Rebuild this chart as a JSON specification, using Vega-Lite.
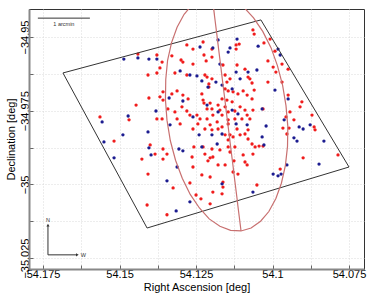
{
  "$schema": "https://vega.github.io/schema/vega-lite/v6.json",
  "width": 335,
  "height": 260,
  "autosize": {"type": "none"},
  "padding": {"left": 29, "top": 9, "right": 10, "bottom": 30},
  "background": "white",
  "config": {
    "font": "Liberation Sans",
    "view": {"stroke": "#333", "strokeWidth": 1},
    "axis": {
      "labelFont": "Liberation Sans",
      "titleFont": "Liberation Sans",
      "labelFontSize": 11,
      "titleFontSize": 11,
      "titleFontWeight": "normal",
      "labelColor": "#000",
      "titleColor": "#000",
      "domainColor": "#888",
      "domainWidth": 2,
      "tickColor": "#666",
      "tickSize": -4,
      "gridColor": "#d0d0d0",
      "gridDash": [1, 2],
      "gridWidth": 0.8
    }
  },
  "datasets": {
    "pts": [
      {"ra":54.1440,"dec":-34.9558,"c":"r"},{"ra":54.1407,"dec":-34.9629,"c":"r"},{"ra":54.1404,"dec":-34.9707,"c":"r"},{"ra":54.1446,"dec":-34.9731,"c":"r"},
      {"ra":54.1564,"dec":-34.9771,"c":"r"},{"ra":54.1469,"dec":-34.9781,"c":"r"},{"ra":54.1518,"dec":-34.9853,"c":"r"},{"ra":54.1427,"dec":-34.9914,"c":"r"},
      {"ra":54.1407,"dec":-34.9965,"c":"r"},{"ra":54.1410,"dec":-35.0070,"c":"r"},{"ra":54.1384,"dec":-34.9897,"c":"r"},{"ra":54.1358,"dec":-34.9914,"c":"r"},
      {"ra":54.1345,"dec":-34.9897,"c":"r"},{"ra":54.1325,"dec":-35.0012,"c":"r"},{"ra":54.1345,"dec":-35.0103,"c":"r"},{"ra":54.1400,"dec":-34.9866,"c":"r"},
      {"ra":54.1358,"dec":-34.9880,"c":"r"},{"ra":54.1378,"dec":-34.9561,"c":"r"},{"ra":54.1361,"dec":-34.9585,"c":"r"},{"ra":54.1378,"dec":-34.9622,"c":"r"},
      {"ra":54.1280,"dec":-34.9527,"c":"r"},{"ra":54.1260,"dec":-34.9541,"c":"r"},{"ra":54.1227,"dec":-34.9517,"c":"r"},{"ra":54.1198,"dec":-34.9541,"c":"r"},
      {"ra":54.1329,"dec":-34.9564,"c":"r"},{"ra":54.1299,"dec":-34.9578,"c":"r"},{"ra":54.1293,"dec":-34.9585,"c":"r"},{"ra":54.1260,"dec":-34.9592,"c":"r"},
      {"ra":54.1224,"dec":-34.9561,"c":"r"},{"ra":54.1217,"dec":-34.9581,"c":"r"},{"ra":54.1198,"dec":-34.9568,"c":"r"},{"ra":54.1368,"dec":-34.9605,"c":"r"},
      {"ra":54.1319,"dec":-34.9622,"c":"r"},{"ra":54.1280,"dec":-34.9629,"c":"r"},{"ra":54.1221,"dec":-34.9629,"c":"r"},{"ra":54.1214,"dec":-34.9636,"c":"r"},
      {"ra":54.1198,"dec":-34.9642,"c":"r"},{"ra":54.1208,"dec":-34.9659,"c":"r"},{"ra":54.1208,"dec":-34.9670,"c":"r"},{"ra":54.1358,"dec":-34.9686,"c":"r"},
      {"ra":54.1329,"dec":-34.9693,"c":"r"},{"ra":54.1312,"dec":-34.9683,"c":"r"},{"ra":54.1293,"dec":-34.9697,"c":"r"},{"ra":54.1276,"dec":-34.9710,"c":"r"},
      {"ra":54.1231,"dec":-34.9693,"c":"r"},{"ra":54.1227,"dec":-34.9714,"c":"r"},{"ra":54.1224,"dec":-34.9724,"c":"r"},{"ra":54.1368,"dec":-34.9703,"c":"r"},
      {"ra":54.1358,"dec":-34.9714,"c":"r"},{"ra":54.1342,"dec":-34.9744,"c":"r"},{"ra":54.1319,"dec":-34.9754,"c":"r"},{"ra":54.1296,"dec":-34.9737,"c":"r"},
      {"ra":54.1280,"dec":-34.9751,"c":"r"},{"ra":54.1270,"dec":-34.9765,"c":"r"},{"ra":54.1247,"dec":-34.9765,"c":"r"},{"ra":54.1237,"dec":-34.9778,"c":"r"},
      {"ra":54.1214,"dec":-34.9778,"c":"r"},{"ra":54.1195,"dec":-34.9765,"c":"r"},{"ra":54.1378,"dec":-34.9778,"c":"r"},{"ra":54.1361,"dec":-34.9778,"c":"r"},
      {"ra":54.1312,"dec":-34.9778,"c":"r"},{"ra":54.1214,"dec":-34.9744,"c":"r"},{"ra":54.1198,"dec":-34.9744,"c":"r"},{"ra":54.1204,"dec":-34.9724,"c":"r"},
      {"ra":54.1064,"dec":-34.9476,"c":"r"},{"ra":54.1060,"dec":-34.9490,"c":"r"},{"ra":54.1008,"dec":-34.9507,"c":"r"},{"ra":54.1119,"dec":-34.9527,"c":"r"},
      {"ra":54.1109,"dec":-34.9524,"c":"r"},{"ra":54.1119,"dec":-34.9541,"c":"r"},{"ra":54.1028,"dec":-34.9520,"c":"r"},{"ra":54.0992,"dec":-34.9548,"c":"r"},
      {"ra":54.0998,"dec":-34.9602,"c":"r"},{"ra":54.0989,"dec":-34.9619,"c":"r"},{"ra":54.1015,"dec":-34.9581,"c":"r"},{"ra":54.1116,"dec":-34.9595,"c":"r"},
      {"ra":54.1090,"dec":-34.9609,"c":"r"},{"ra":54.1080,"dec":-34.9636,"c":"r"},{"ra":54.1074,"dec":-34.9642,"c":"r"},{"ra":54.1067,"dec":-34.9656,"c":"r"},
      {"ra":54.1060,"dec":-34.9680,"c":"r"},{"ra":54.1162,"dec":-34.9595,"c":"r"},{"ra":54.1155,"dec":-34.9629,"c":"r"},{"ra":54.1149,"dec":-34.9653,"c":"r"},
      {"ra":54.1139,"dec":-34.9642,"c":"r"},{"ra":54.1155,"dec":-34.9676,"c":"r"},{"ra":54.1145,"dec":-34.9683,"c":"r"},{"ra":54.1129,"dec":-34.9686,"c":"r"},
      {"ra":54.1113,"dec":-34.9693,"c":"r"},{"ra":54.1096,"dec":-34.9683,"c":"r"},{"ra":54.1083,"dec":-34.9697,"c":"r"},{"ra":54.1067,"dec":-34.9710,"c":"r"},
      {"ra":54.1165,"dec":-34.9710,"c":"r"},{"ra":54.1149,"dec":-34.9714,"c":"r"},{"ra":54.1132,"dec":-34.9720,"c":"r"},{"ra":54.1178,"dec":-34.9731,"c":"r"},
      {"ra":54.1172,"dec":-34.9748,"c":"r"},{"ra":54.1155,"dec":-34.9737,"c":"r"},{"ra":54.1145,"dec":-34.9754,"c":"r"},{"ra":54.1123,"dec":-34.9751,"c":"r"},
      {"ra":54.1106,"dec":-34.9737,"c":"r"},{"ra":54.1090,"dec":-34.9748,"c":"r"},{"ra":54.1083,"dec":-34.9765,"c":"r"},{"ra":54.1064,"dec":-34.9748,"c":"r"},
      {"ra":54.1165,"dec":-34.9765,"c":"r"},{"ra":54.1145,"dec":-34.9781,"c":"r"},{"ra":54.1123,"dec":-34.9778,"c":"r"},{"ra":54.1100,"dec":-34.9778,"c":"r"},
      {"ra":54.1074,"dec":-34.9778,"c":"r"},{"ra":54.1031,"dec":-34.9744,"c":"r"},{"ra":54.1015,"dec":-34.9653,"c":"r"},
      {"ra":54.0969,"dec":-34.9592,"c":"r"},{"ra":54.0949,"dec":-34.9609,"c":"r"},{"ra":54.0969,"dec":-34.9653,"c":"r"},{"ra":54.0949,"dec":-34.9697,"c":"r"},
      {"ra":54.0904,"dec":-34.9720,"c":"r"},{"ra":54.0910,"dec":-34.9737,"c":"r"},{"ra":54.0943,"dec":-34.9754,"c":"r"},{"ra":54.0871,"dec":-34.9765,"c":"r"},
      {"ra":54.0956,"dec":-34.9771,"c":"r"},{"ra":54.0930,"dec":-34.9781,"c":"r"},
      {"ra":54.1302,"dec":-34.9795,"c":"r"},{"ra":54.1260,"dec":-34.9812,"c":"r"},{"ra":54.1244,"dec":-34.9795,"c":"r"},{"ra":54.1221,"dec":-34.9812,"c":"r"},
      {"ra":54.1204,"dec":-34.9798,"c":"r"},{"ra":54.1198,"dec":-34.9815,"c":"r"},{"ra":54.1257,"dec":-34.9873,"c":"r"},{"ra":54.1227,"dec":-34.9873,"c":"r"},
      {"ra":54.1198,"dec":-34.9880,"c":"r"},{"ra":54.1221,"dec":-34.9897,"c":"r"},{"ra":54.1204,"dec":-34.9910,"c":"r"},{"ra":54.1211,"dec":-34.9920,"c":"r"},
      {"ra":54.1195,"dec":-34.9907,"c":"r"},{"ra":54.1263,"dec":-34.9907,"c":"r"},{"ra":54.1260,"dec":-34.9941,"c":"r"},{"ra":54.1231,"dec":-34.9968,"c":"r"},
      {"ra":54.1204,"dec":-34.9975,"c":"r"},{"ra":54.1270,"dec":-34.9995,"c":"r"},{"ra":54.1250,"dec":-35.0036,"c":"r"},{"ra":54.1234,"dec":-35.0049,"c":"r"},
      {"ra":54.1204,"dec":-35.0066,"c":"r"},{"ra":54.1195,"dec":-35.0026,"c":"r"},
      {"ra":54.1178,"dec":-34.9812,"c":"r"},{"ra":54.1165,"dec":-34.9805,"c":"r"},{"ra":54.1145,"dec":-34.9795,"c":"r"},{"ra":54.1155,"dec":-34.9832,"c":"r"},
      {"ra":54.1139,"dec":-34.9832,"c":"r"},{"ra":54.1145,"dec":-34.9849,"c":"r"},{"ra":54.1129,"dec":-34.9839,"c":"r"},{"ra":54.1106,"dec":-34.9832,"c":"r"},
      {"ra":54.1090,"dec":-34.9829,"c":"r"},{"ra":54.1080,"dec":-34.9846,"c":"r"},{"ra":54.1116,"dec":-34.9812,"c":"r"},{"ra":54.1080,"dec":-34.9815,"c":"r"},
      {"ra":54.1067,"dec":-34.9863,"c":"r"},{"ra":54.1057,"dec":-34.9873,"c":"r"},{"ra":54.1044,"dec":-34.9870,"c":"r"},{"ra":54.1031,"dec":-34.9870,"c":"r"},
      {"ra":54.1123,"dec":-34.9873,"c":"r"},{"ra":54.1145,"dec":-34.9873,"c":"r"},{"ra":54.1172,"dec":-34.9883,"c":"r"},{"ra":54.1139,"dec":-34.9890,"c":"r"},
      {"ra":54.1096,"dec":-34.9900,"c":"r"},{"ra":54.1064,"dec":-34.9897,"c":"r"},{"ra":54.1090,"dec":-34.9924,"c":"r"},{"ra":54.1083,"dec":-34.9934,"c":"r"},
      {"ra":54.1126,"dec":-34.9920,"c":"r"},{"ra":54.1178,"dec":-34.9934,"c":"r"},{"ra":54.1155,"dec":-34.9934,"c":"r"},{"ra":54.1129,"dec":-34.9958,"c":"r"},
      {"ra":54.1113,"dec":-34.9965,"c":"r"},{"ra":54.1162,"dec":-34.9992,"c":"r"},{"ra":54.1162,"dec":-35.0009,"c":"r"},{"ra":54.1165,"dec":-35.0032,"c":"r"},
      {"ra":54.1051,"dec":-35.0002,"c":"r"},{"ra":54.1181,"dec":-34.9788,"c":"r"},
      {"ra":54.0966,"dec":-34.9809,"c":"r"},{"ra":54.0946,"dec":-34.9809,"c":"r"},{"ra":54.0953,"dec":-34.9829,"c":"r"},{"ra":54.0864,"dec":-34.9805,"c":"r"},
      {"ra":54.0861,"dec":-34.9815,"c":"r"},{"ra":54.0900,"dec":-34.9910,"c":"r"},{"ra":54.0786,"dec":-34.9900,"c":"r"},{"ra":54.0975,"dec":-34.9948,"c":"r"},
      {"ra":54.1486,"dec":-34.9575,"c":"b"},{"ra":54.1440,"dec":-34.9571,"c":"b"},{"ra":54.1404,"dec":-34.9575,"c":"b"},{"ra":54.1472,"dec":-34.9768,"c":"b"},
      {"ra":54.1557,"dec":-34.9788,"c":"b"},{"ra":54.1489,"dec":-34.9832,"c":"b"},{"ra":54.1551,"dec":-34.9856,"c":"b"},{"ra":54.1518,"dec":-34.9910,"c":"b"},
      {"ra":54.1407,"dec":-34.9822,"c":"b"},{"ra":54.1404,"dec":-34.9876,"c":"b"},{"ra":54.1397,"dec":-34.9900,"c":"b"},{"ra":54.1293,"dec":-34.9886,"c":"b"},
      {"ra":54.1312,"dec":-34.9941,"c":"b"},{"ra":54.1345,"dec":-34.9988,"c":"b"},{"ra":54.1315,"dec":-35.0090,"c":"b"},{"ra":54.1381,"dec":-34.9751,"c":"b"},
      {"ra":54.1335,"dec":-34.9798,"c":"b"},{"ra":54.1237,"dec":-34.9534,"c":"b"},{"ra":54.1195,"dec":-34.9537,"c":"b"},{"ra":54.1378,"dec":-34.9575,"c":"b"},
      {"ra":54.1302,"dec":-34.9615,"c":"b"},{"ra":54.1270,"dec":-34.9629,"c":"b"},{"ra":54.1247,"dec":-34.9632,"c":"b"},{"ra":54.1231,"dec":-34.9649,"c":"b"},
      {"ra":54.1211,"dec":-34.9670,"c":"b"},{"ra":54.1338,"dec":-34.9707,"c":"b"},{"ra":54.1293,"dec":-34.9717,"c":"b"},{"ra":54.1214,"dec":-34.9731,"c":"b"},
      {"ra":54.1260,"dec":-34.9771,"c":"b"},{"ra":54.1116,"dec":-34.9507,"c":"b"},{"ra":54.1178,"dec":-34.9510,"c":"b"},{"ra":54.1139,"dec":-34.9537,"c":"b"},
      {"ra":54.1145,"dec":-34.9551,"c":"b"},{"ra":54.1047,"dec":-34.9531,"c":"b"},{"ra":54.0982,"dec":-34.9541,"c":"b"},{"ra":54.1172,"dec":-34.9592,"c":"b"},
      {"ra":54.1119,"dec":-34.9619,"c":"b"},{"ra":54.1080,"dec":-34.9619,"c":"b"},{"ra":54.1051,"dec":-34.9612,"c":"b"},{"ra":54.1185,"dec":-34.9653,"c":"b"},
      {"ra":54.1165,"dec":-34.9663,"c":"b"},{"ra":54.1132,"dec":-34.9676,"c":"b"},{"ra":54.1106,"dec":-34.9642,"c":"b"},{"ra":54.0992,"dec":-34.9680,"c":"b"},
      {"ra":54.1178,"dec":-34.9754,"c":"b"},{"ra":54.1132,"dec":-34.9748,"c":"b"},{"ra":54.1113,"dec":-34.9761,"c":"b"},{"ra":54.1034,"dec":-34.9744,"c":"b"},
      {"ra":54.0975,"dec":-34.9561,"c":"b"},{"ra":54.0949,"dec":-34.9710,"c":"b"},{"ra":54.0962,"dec":-34.9781,"c":"b"},{"ra":54.1240,"dec":-34.9832,"c":"b"},
      {"ra":54.1198,"dec":-34.9832,"c":"b"},{"ra":54.1306,"dec":-34.9880,"c":"b"},{"ra":54.1231,"dec":-34.9873,"c":"b"},{"ra":54.1270,"dec":-35.0059,"c":"b"},
      {"ra":54.1181,"dec":-34.9863,"c":"b"},{"ra":54.1165,"dec":-34.9829,"c":"b"},{"ra":54.1119,"dec":-34.9795,"c":"b"},{"ra":54.1083,"dec":-34.9798,"c":"b"},
      {"ra":54.1021,"dec":-34.9802,"c":"b"},{"ra":54.1034,"dec":-34.9839,"c":"b"},{"ra":54.1028,"dec":-34.9866,"c":"b"},{"ra":54.0998,"dec":-34.9965,"c":"b"},
      {"ra":54.0982,"dec":-34.9971,"c":"b"},{"ra":54.1165,"dec":-34.9998,"c":"b"},{"ra":54.1064,"dec":-35.0026,"c":"b"},{"ra":54.0913,"dec":-34.9805,"c":"b"},
      {"ra":54.0900,"dec":-34.9812,"c":"b"},{"ra":54.0877,"dec":-34.9798,"c":"b"},{"ra":54.0930,"dec":-34.9842,"c":"b"},{"ra":54.0920,"dec":-34.9853,"c":"b"},
      {"ra":54.0832,"dec":-34.9853,"c":"b"},{"ra":54.0848,"dec":-34.9931,"c":"b"},{"ra":54.0953,"dec":-34.9934,"c":"b"},{"ra":54.0972,"dec":-34.9965,"c":"b"}
    ],
    "frame": [
      {"i":0,"ra":54.1685,"dec":-34.9622},
      {"i":1,"ra":54.1038,"dec":-34.9442},
      {"i":2,"ra":54.0750,"dec":-34.9941},
      {"i":3,"ra":54.1410,"dec":-35.0148},
      {"i":4,"ra":54.1685,"dec":-34.9622}
    ],
    "ell": [
      {"i":0,"ra":54.1198,"dec":-34.9357},{"i":1,"ra":54.1163,"dec":-34.9359},{"i":2,"ra":54.1128,"dec":-34.9373},{"i":3,"ra":54.1094,"dec":-34.9399},
      {"i":4,"ra":54.1062,"dec":-34.9435},{"i":5,"ra":54.1032,"dec":-34.9481},{"i":6,"ra":54.1005,"dec":-34.9536},{"i":7,"ra":54.0984,"dec":-34.9597},
      {"i":8,"ra":54.0967,"dec":-34.9664},{"i":9,"ra":54.0956,"dec":-34.9733},{"i":10,"ra":54.0950,"dec":-34.9803},{"i":11,"ra":54.0951,"dec":-34.9871},
      {"i":12,"ra":54.0958,"dec":-34.9936},{"i":13,"ra":54.0971,"dec":-34.9996},{"i":14,"ra":54.0989,"dec":-35.0048},{"i":15,"ra":54.1012,"dec":-35.0092},
      {"i":16,"ra":54.1039,"dec":-35.0125},{"i":17,"ra":54.1070,"dec":-35.0148},{"i":18,"ra":54.1103,"dec":-35.0158},{"i":19,"ra":54.1137,"dec":-35.0156},
      {"i":20,"ra":54.1172,"dec":-35.0142},{"i":21,"ra":54.1207,"dec":-35.0117},{"i":22,"ra":54.1239,"dec":-35.0080},{"i":23,"ra":54.1269,"dec":-35.0034},
      {"i":24,"ra":54.1295,"dec":-34.9979},{"i":25,"ra":54.1317,"dec":-34.9918},{"i":26,"ra":54.1334,"dec":-34.9852},{"i":27,"ra":54.1345,"dec":-34.9782},
      {"i":28,"ra":54.1350,"dec":-34.9713},{"i":29,"ra":54.1349,"dec":-34.9644},{"i":30,"ra":54.1343,"dec":-34.9579},{"i":31,"ra":54.1330,"dec":-34.9519},
      {"i":32,"ra":54.1312,"dec":-34.9467},{"i":33,"ra":54.1289,"dec":-34.9423},{"i":34,"ra":54.1262,"dec":-34.9390},{"i":35,"ra":54.1231,"dec":-34.9368},
      {"i":36,"ra":54.1198,"dec":-34.9357}
    ],
    "major": [
      {"i":0,"ra":54.1198,"dec":-34.9357},
      {"i":1,"ra":54.1103,"dec":-35.0158}
    ],
    "bar": [{"ra":54.1767,"ra2":54.1597,"dec":-34.9436,"dec2":-34.9436}],
    "bartext": [{"ra":54.1682,"dec":-34.9456,"t":"1 arcmin"}],
    "compass": [
      {"ra":54.1734,"dec":-35.0239,"ra2":54.1734,"dec2":-35.0140},
      {"ra":54.1734,"dec":-35.0239,"ra2":54.1640,"dec2":-35.0239}
    ],
    "heads": [
      {"ra":54.1734,"dec":-35.0138,"s":"triangle-up"},
      {"ra":54.1638,"dec":-35.0239,"s":"triangle-right"}
    ],
    "clabels": [
      {"ra":54.1734,"dec":-35.0122,"t":"N"},
      {"ra":54.1618,"dec":-35.0239,"t":"W"}
    ]
  },
  "encoding": {
    "x": {
      "field": "ra", "type": "quantitative",
      "scale": {"domain": [54.0701, 54.1796], "reverse": true, "nice": false, "zero": false},
      "axis": {
        "title": "Right Ascension [deg]",
        "values": [54.075, 54.0875, 54.1, 54.1125, 54.125, 54.1375, 54.15, 54.1625, 54.175],
        "labelExpr": "abs(datum.value*40 - round(datum.value*40)) < 0.01 ? format(datum.value, '.3~f') : ''",
        "labelPadding": 3,
        "titlePadding": 2,
        "labelFlush": false
      }
    },
    "y": {
      "field": "dec", "type": "quantitative",
      "scale": {"domain": [-35.0287, -34.9405], "nice": false, "zero": false},
      "axis": {
        "title": "Declination [deg]",
        "values": [-35.025, -35.0125, -35, -34.9875, -34.975, -34.9625, -34.95],
        "labelExpr": "abs(datum.value*40 - round(datum.value*40)) < 0.01 ? format(datum.value, '.3~f') : ''",
        "labelAngle": -90,
        "labelAlign": "center",
        "labelBaseline": "bottom",
        "labelPadding": 3,
        "titlePadding": 3,
        "labelFlush": false
      }
    }
  },
  "layer": [
    {
      "data": {"name": "pts"},
      "mark": {"type": "point", "filled": true, "shape": "circle", "size": 11, "opacity": 1},
      "encoding": {
        "color": {"field": "c", "type": "nominal", "scale": {"domain": ["r", "b"], "range": ["#f01c1c", "#1c1c90"]}, "legend": null}
      }
    },
    {
      "data": {"name": "frame"},
      "mark": {"type": "line", "color": "#333", "strokeWidth": 1},
      "encoding": {"order": {"field": "i", "type": "quantitative"}}
    },
    {
      "data": {"name": "ell"},
      "mark": {"type": "line", "color": "#c87070", "strokeWidth": 1.2, "clip": true},
      "encoding": {"order": {"field": "i", "type": "quantitative"}}
    },
    {
      "data": {"name": "major"},
      "mark": {"type": "line", "color": "#c87070", "strokeWidth": 1.2, "clip": true},
      "encoding": {"order": {"field": "i", "type": "quantitative"}}
    },
    {
      "data": {"name": "bar"},
      "mark": {"type": "rule", "color": "#333", "strokeWidth": 1},
      "encoding": {"x2": {"field": "ra2"}, "y2": {"field": "dec2"}}
    },
    {
      "data": {"name": "bartext"},
      "mark": {"type": "text", "fontSize": 5.5, "color": "#333", "baseline": "middle", "align": "center"},
      "encoding": {"text": {"field": "t"}}
    },
    {
      "data": {"name": "compass"},
      "mark": {"type": "rule", "color": "#333", "strokeWidth": 1},
      "encoding": {"x2": {"field": "ra2"}, "y2": {"field": "dec2"}}
    },
    {
      "data": {"name": "heads"},
      "mark": {"type": "point", "filled": true, "color": "#333", "size": 10, "opacity": 1},
      "encoding": {"shape": {"field": "s", "type": "nominal", "scale": null}}
    },
    {
      "data": {"name": "clabels"},
      "mark": {"type": "text", "fontSize": 5.5, "color": "#333", "baseline": "middle", "align": "center"},
      "encoding": {"text": {"field": "t"}}
    }
  ]
}
